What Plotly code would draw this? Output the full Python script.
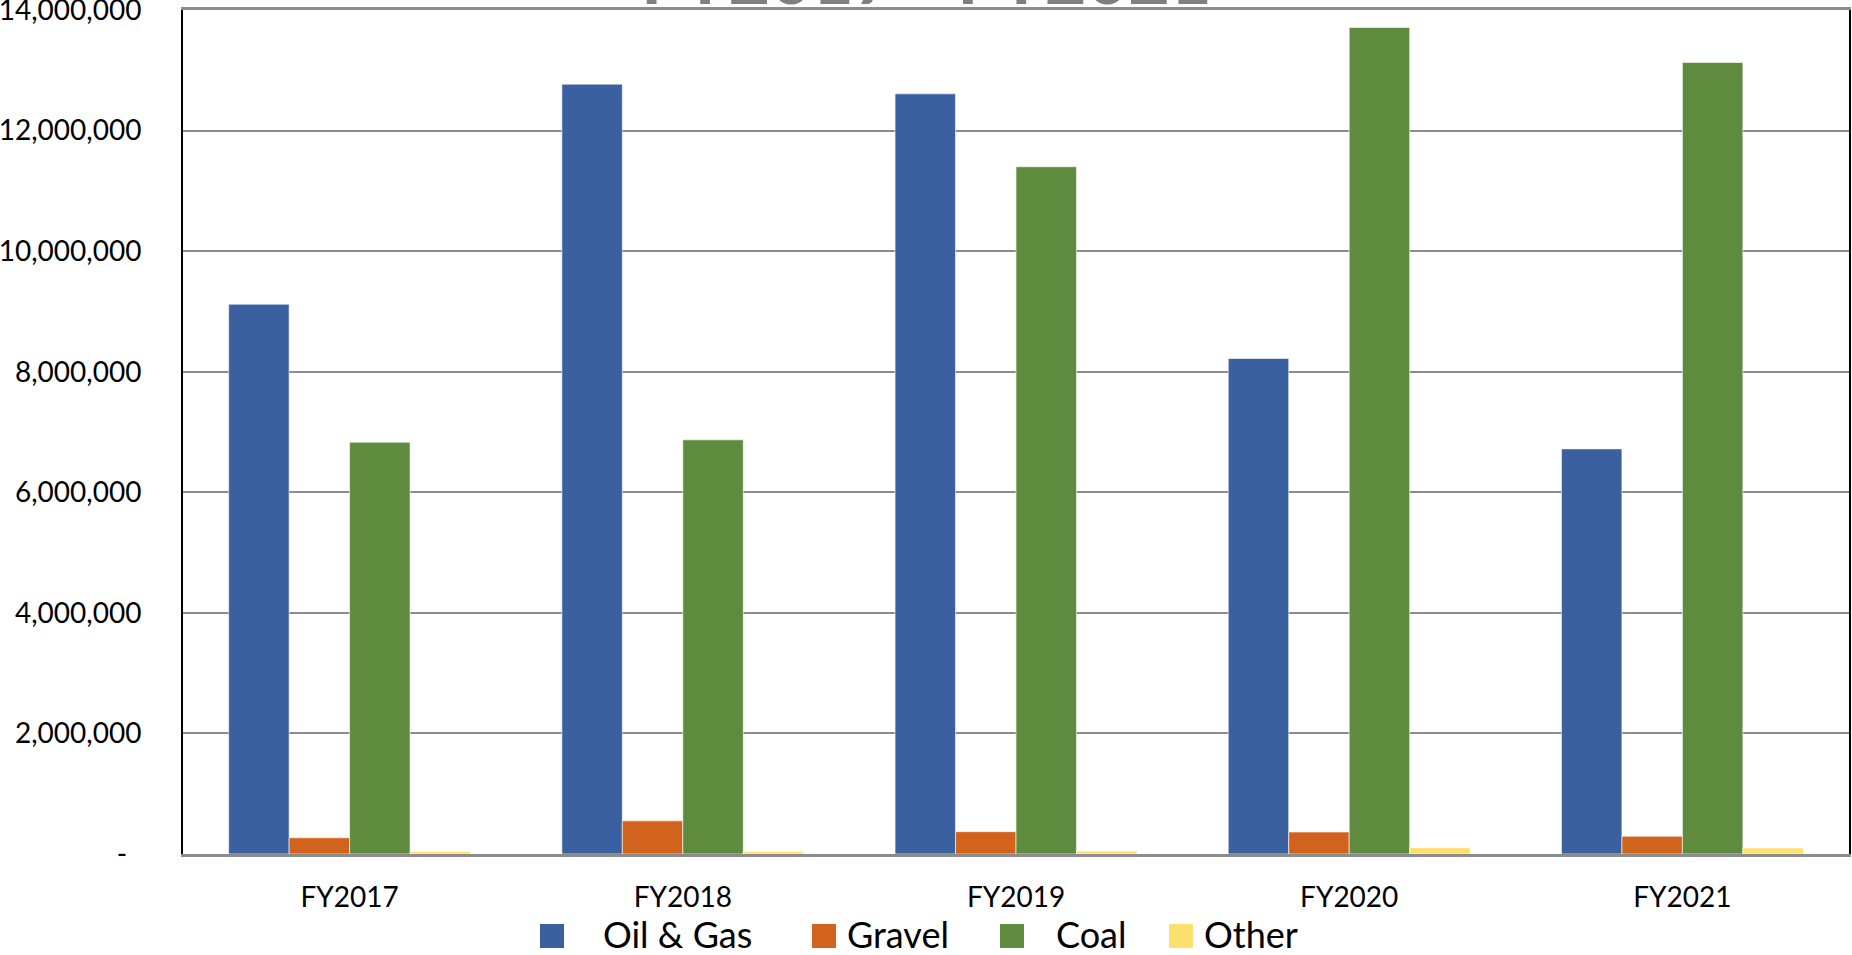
import plotly.graph_objects as go

# ---- data ----
categories = ["FY2017", "FY2018", "FY2019", "FY2020", "FY2021"]
oil_gas = [9120000, 12770000, 12610000, 8220000, 6720000]
gravel = [270000, 550000, 370000, 365000, 295000]
coal = [6830000, 6870000, 11400000, 13710000, 13130000]
other = [40000, 40000, 50000, 105000, 100000]
series_names = ["Oil & Gas", "Gravel", "Coal", "Other"]
tick_vals = [0, 2000000, 4000000, 6000000, 8000000, 10000000, 12000000, 14000000]
tick_text = ["-\u00a0\u00a0", "2,000,000", "4,000,000", "6,000,000", "8,000,000",
             "10,000,000", "12,000,000", "14,000,000"]
title_text = "FY2017 - FY2021"

colors = ["#3A60A0", "#D1631C", "#5F8B3E", "#FFDF6E"]
series = [oil_gas, gravel, coal, other]

W, H = 1852, 955
ML, MR, MT, MB = 183, 3, 10, 101
PW = W - ML - MR
PH = H - MT - MB

def px_x(px):
    return (px - ML) / PW

def px_y(py):
    return (H - MB - py) / PH

FONT = "Lato"

fig = go.Figure()
for name, vals, col in zip(series_names, series, colors):
    fig.add_trace(go.Bar(
        x=categories, y=vals, name=name,
        marker=dict(color=col, line=dict(color="rgba(255,255,255,0.6)", width=1)),
        showlegend=False,
    ))

# custom legend (large squares like the reference)
leg_sq = [540, 812, 1000, 1169]
leg_tx = [601, 845, 1054, 1202]
cy = 936
for name, col, sx, tx in zip(series_names, colors, leg_sq, leg_tx):
    fig.add_shape(type="rect", xref="paper", yref="paper",
                  x0=px_x(sx), x1=px_x(sx + 24), y0=px_y(cy - 12), y1=px_y(cy + 12),
                  fillcolor=col, line=dict(width=0))
    fig.add_annotation(text=name, xref="paper", yref="paper",
                       x=px_x(tx), y=px_y(cy - 2), xanchor="left", yanchor="middle",
                       showarrow=False, font=dict(family=FONT, size=36, color="black"))

# title, mostly cut off at top as in the reference
fig.add_annotation(text="<b>" + title_text + "</b>", xref="paper", yref="paper",
                   x=px_x(926), y=px_y(-24), xanchor="center", yanchor="middle",
                   showarrow=False, font=dict(family=FONT, size=72, color="#7F7F7F"))

fig.update_layout(
    width=W, height=H,
    margin=dict(l=ML, r=MR, t=MT, b=MB, pad=0, autoexpand=False),
    paper_bgcolor="white", plot_bgcolor="white",
    barmode="group", bargap=0.274, bargroupgap=0,
    font=dict(family=FONT, color="black"),
    showlegend=False,
    xaxis=dict(
        showgrid=False, showline=True, mirror=True, linecolor="#8C8C8C", linewidth=3,
        ticks="", tickfont=dict(size=28, color="black"), ticklabelstandoff=16,
        automargin=False,
    ),
    yaxis=dict(
        range=[0, 14000000], tickvals=tick_vals, ticktext=tick_text,
        showgrid=True, gridcolor="#8C8C8C", gridwidth=2, zeroline=False,
        showline=True, mirror=True, linecolor="black", linewidth=2,
        ticks="", tickfont=dict(size=28, color="black"), ticklabelstandoff=34,
        ticklabeloverflow="allow", automargin=False,
    ),
)

fig.write_html("out.html")
